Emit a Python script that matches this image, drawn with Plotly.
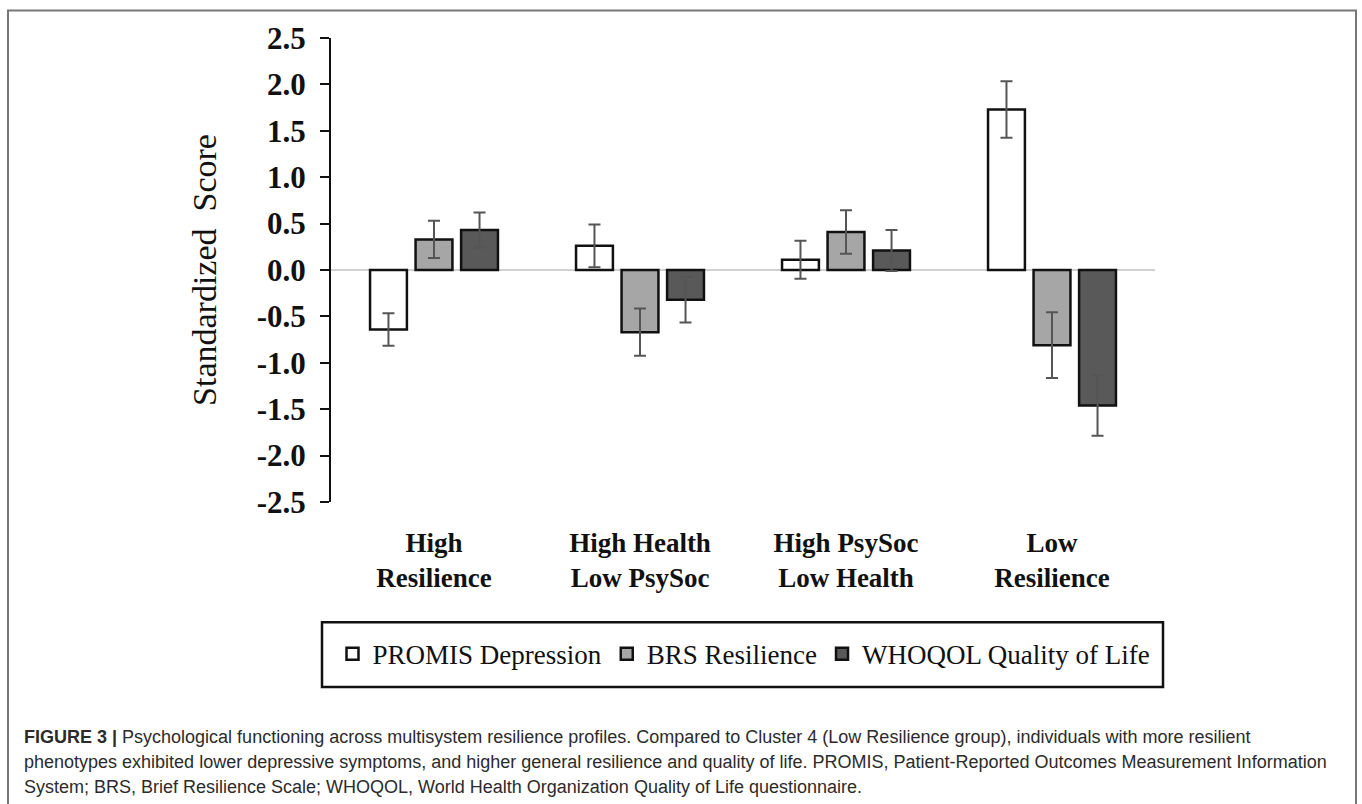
import plotly.graph_objects as go

categories = ["High<br>Resilience", "High Health<br>Low PsySoc", "High PsySoc<br>Low Health", "Low<br>Resilience"]
series_names = ["PROMIS Depression", "BRS Resilience", "WHOQOL Quality of Life"]
promis_values = [-0.64, 0.26, 0.11, 1.73]
promis_errors = [0.175, 0.23, 0.205, 0.305]
brs_values = [0.33, -0.67, 0.41, -0.81]
brs_errors = [0.20, 0.255, 0.235, 0.355]
whoqol_values = [0.43, -0.32, 0.21, -1.46]
whoqol_errors = [0.19, 0.245, 0.22, 0.325]
y_tick_vals = [2.5, 2.0, 1.5, 1.0, 0.5, 0.0, -0.5, -1.0, -1.5, -2.0, -2.5]
y_tick_text = ["2.5", "2.0", "1.5", "1.0", "0.5", "0.0", "-0.5", "-1.0", "-1.5", "-2.0", "-2.5"]
caption_lines = [
    "<b>FIGURE 3 |</b> Psychological functioning across multisystem resilience profiles. Compared to Cluster 4 (Low Resilience group), individuals with more resilient",
    "phenotypes exhibited lower depressive symptoms, and higher general resilience and quality of life. PROMIS, Patient-Reported Outcomes Measurement Information",
    "System; BRS, Brief Resilience Scale; WHOQOL, World Health Organization Quality of Life questionnaire.",
]

W, H = 1362, 804
L, R, T, B = 331, 1155, 37.5, 502.5  # plot area in px


def px_x(x):
    return (x - L) / (R - L)


def px_y(y):
    return (B - y) / (B - T)


fills = ["#ffffff", "#a6a6a6", "#595959"]
vals = [promis_values, brs_values, whoqol_values]
errs = [promis_errors, brs_errors, whoqol_errors]

fig = go.Figure()
for name, v, e, c in zip(series_names, vals, errs, fills):
    fig.add_trace(go.Bar(
        x=categories, y=v, name=name,
        marker=dict(color=c, line=dict(color="#111111", width=2.5)),
        error_y=dict(type="data", array=e, visible=True, color="#555555", thickness=2, width=6),
    ))

serif = "Liberation Serif"
fig.update_layout(
    width=W, height=H,
    margin=dict(l=L, r=W - R, t=T, b=H - B, pad=0),
    paper_bgcolor="white", plot_bgcolor="white",
    barmode="group", bargap=0.337, bargroupgap=0.19,
    font=dict(family=serif, color="#111111"),
    showlegend=True,
    legend=dict(
        orientation="h", x=px_x(744), xanchor="center", y=px_y(655), yanchor="middle",
        font=dict(family=serif, size=27, color="#111111"),
        bgcolor="rgba(0,0,0,0)", borderwidth=0, traceorder="normal",
        itemwidth=30,
    ),
)
fig.update_xaxes(
    showline=False, ticks="", showgrid=False, zeroline=False,
    tickfont=dict(family=serif, size=27, color="#111111", weight="bold"),
    ticklabelstandoff=22,
    range=[-0.5, 3.5],
)
fig.update_yaxes(
    range=[-2.5, 2.5], tickvals=y_tick_vals, ticktext=y_tick_text,
    showline=True, linecolor="#111111", linewidth=2,
    ticks="outside", ticklen=9, tickwidth=2, tickcolor="#111111",
    ticklabelstandoff=8,
    showgrid=False, zeroline=True, zerolinecolor="#d0d0d0", zerolinewidth=2,
    tickfont=dict(family=serif, size=31, color="#111111", weight="bold"),
    title=dict(text="Standardized  Score", font=dict(family=serif, size=34, color="#111111"), standoff=30),
)

# legend box and outer frame
fig.add_shape(type="rect", xref="paper", yref="paper",
              x0=px_x(322), x1=px_x(1163), y0=px_y(688), y1=px_y(623),
              line=dict(color="#111111", width=2.5), fillcolor="rgba(0,0,0,0)", layer="below")
fig.add_shape(type="rect", xref="paper", yref="paper",
              x0=px_x(8), x1=px_x(1356), y0=px_y(830), y1=px_y(10),
              line=dict(color="#777777", width=2), fillcolor="rgba(0,0,0,0)", layer="below")

for line, yy in zip(caption_lines, [738, 763, 788]):
    fig.add_annotation(text=line, xref="paper", yref="paper", x=px_x(22), y=px_y(yy),
                       xanchor="left", yanchor="middle", showarrow=False,
                       font=dict(family="Liberation Sans", size=18, color="#2b2b2b"))

fig.write_html("out.html", config={"displayModeBar": False},
               post_script="document.body.style.margin='0';document.body.style.overflow='hidden';")
